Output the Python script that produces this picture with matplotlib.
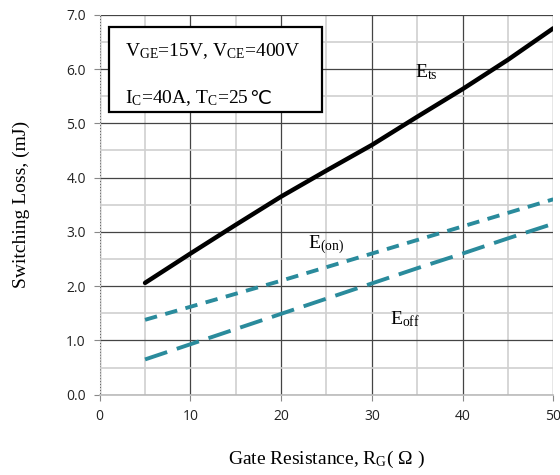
import matplotlib
matplotlib.use("Agg")
import matplotlib.pyplot as plt
from matplotlib.patches import Rectangle
from matplotlib.ticker import MultipleLocator

rg = [5, 10, 15, 20, 25, 30, 35, 40, 45, 50]
e_ts = [2.06, 2.6, 3.13, 3.65, 4.13, 4.6, 5.12, 5.63, 6.17, 6.75]
e_on = [1.38, 1.62, 1.86, 2.1, 2.35, 2.6, 2.85, 3.1, 3.35, 3.6]
e_off = [0.65, 0.93, 1.21, 1.49, 1.77, 2.05, 2.33, 2.6, 2.88, 3.15]

teal = "#2a8b9c"
serif = "Liberation Serif"
plt.rcParams["mathtext.fontset"] = "custom"
plt.rcParams["mathtext.rm"] = serif
plt.rcParams["mathtext.it"] = serif + ":italic"

fig = plt.figure(figsize=(5.6, 4.75), dpi=100)
ax = fig.add_axes([0.178, 0.169, 0.81, 0.8])

ax.set_xlim(0, 50)
ax.set_ylim(0, 7)
ax.xaxis.set_major_locator(MultipleLocator(10))
ax.xaxis.set_minor_locator(MultipleLocator(5))
ax.yaxis.set_major_locator(MultipleLocator(1))
ax.yaxis.set_minor_locator(MultipleLocator(0.5))
ax.grid(True, which="major", color="#444444", lw=0.9)
ax.grid(True, which="minor", color="#d0d0d0", lw=1.2)
ax.set_axisbelow(True)
for s in ["top", "right"]:
    ax.spines[s].set_visible(False)
ax.spines["left"].set_color("#cccccc")
ax.spines["left"].set_linestyle(":")
ax.spines["bottom"].set_color("#bbbbbb")
ax.spines["bottom"].set_linewidth(1.2)
ax.tick_params(which="major", length=4, color="#888888", labelsize=10,
               labelcolor="#222222", pad=6)
ax.tick_params(which="minor", length=0)
ax.set_yticks(ax.get_yticks())
ax.set_yticklabels([f"{v:.1f}" for v in ax.get_yticks()], family="Open Sans")
ax.set_xticks(ax.get_xticks())
ax.set_xticklabels([f"{v:.0f}" for v in ax.get_xticks()], family="Open Sans")
ax.set_xlim(0, 50)
ax.set_ylim(0, 7)

ax.plot(rg, e_ts, color="black", lw=3.2, solid_capstyle="round")
ax.plot(rg, e_on, color=teal, lw=2.8, dashes=(3.2, 2.2))
ax.plot(rg, e_off, color=teal, lw=2.8, dashes=(6, 2.6))

ax.text(34.8, 5.85, r"E$_{\rm ts}$", fontsize=14, family=serif)
ax.text(23.0, 2.7, r"E$_{\rm (on)}$", fontsize=14, family=serif)
ax.text(32.0, 1.3, r"E$_{\rm off}$", fontsize=14, family=serif)

ax.add_patch(Rectangle((0.020, 0.745), 0.471, 0.223, transform=ax.transAxes,
                       fc="white", ec="black", lw=1.6, zorder=5))
ax.text(0.055, 0.903, "V$_{\\rm GE}$=15V, V$_{\\rm CE}$=400V", transform=ax.transAxes,
        fontsize=14, family=serif, va="center", zorder=6)
t2 = ax.text(0.055, 0.768, "I$_{\\rm C}$=40A, T$_{\\rm C}$=25", transform=ax.transAxes,
             fontsize=14, family=serif, va="baseline", zorder=6)
ax.annotate("\u2103", xy=(1, 0), xycoords=t2, xytext=(0.5, 0), textcoords="offset points",
            fontsize=14, family=["DejaVu Sans", "Noto Sans CJK SC"],
            va="bottom", ha="left", zorder=6)

ax.set_xlabel("Gate Resistance, R$_{\\rm G}$( \u03a9 )", fontsize=14, family=serif, labelpad=18)
ax.set_ylabel("Switching Loss, (mJ)", fontsize=14, family=serif, labelpad=26)

fig.savefig("out.png", dpi=100)
